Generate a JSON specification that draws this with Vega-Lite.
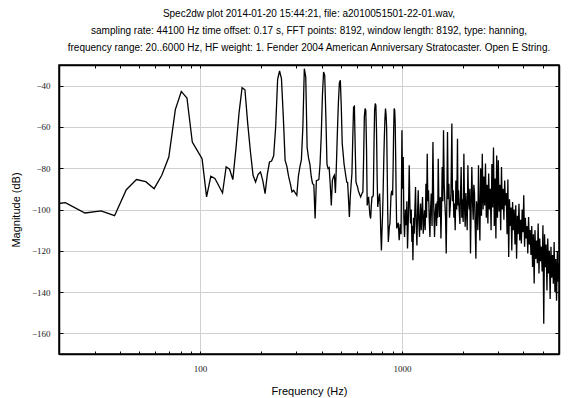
{
  "$schema": "https://vega.github.io/schema/vega-lite/v6.json",
  "width": 500,
  "height": 289,
  "autosize": "none",
  "padding": {"left": 59, "top": 65, "right": 15, "bottom": 44},
  "title": {
    "text": [
      "Spec2dw plot 2014-01-20 15:44:21, file: a2010051501-22-01.wav,",
      "sampling rate: 44100 Hz time offset: 0.17 s, FFT points: 8192, window length: 8192, type: hanning,",
      "frequency range: 20..6000 Hz, HF weight: 1. Fender 2004 American Anniversary Stratocaster. Open E String."
    ],
    "font": "Liberation Sans",
    "fontSize": 10,
    "fontWeight": "normal",
    "lineHeight": 17,
    "offset": 12,
    "anchor": "middle",
    "color": "#000"
  },
  "config": {
    "view": {"stroke": "#000", "strokeWidth": 1.5},
    "axis": {
      "domainColor": "#000",
      "domainWidth": 1.5,
      "tickColor": "#000",
      "labelFont": "Liberation Serif",
      "labelFontSize": 9,
      "labelColor": "#222",
      "titleFont": "Liberation Sans",
      "titleFontSize": 11,
      "titleFontWeight": "normal",
      "titleColor": "#000",
      "gridColor": "#d0d0d0",
      "gridWidth": 1
    }
  },
  "data": {
    "values": [
      {"f": 16.2, "db": -98.2},
      {"f": 21.5, "db": -96.7},
      {"f": 26.9, "db": -101.7},
      {"f": 32.3, "db": -100.7},
      {"f": 37.7, "db": -103},
      {"f": 43.1, "db": -90.4},
      {"f": 48.4, "db": -85.5},
      {"f": 53.8, "db": -86.5},
      {"f": 59.2, "db": -89.9},
      {"f": 64.6, "db": -83.4},
      {"f": 70.0, "db": -74.6},
      {"f": 75.4, "db": -51.6},
      {"f": 80.7, "db": -42.8},
      {"f": 86.1, "db": -46},
      {"f": 91.5, "db": -67.3},
      {"f": 96.9, "db": -71.5},
      {"f": 102.3, "db": -75.4},
      {"f": 107.7, "db": -93.9},
      {"f": 113.0, "db": -83.9},
      {"f": 118.4, "db": -85},
      {"f": 123.8, "db": -88.5},
      {"f": 129.2, "db": -92},
      {"f": 134.6, "db": -79.4},
      {"f": 140.0, "db": -80.5},
      {"f": 145.3, "db": -85.5},
      {"f": 150.7, "db": -70},
      {"f": 156.1, "db": -52.8},
      {"f": 161.5, "db": -41},
      {"f": 166.8, "db": -42},
      {"f": 172.2, "db": -58.4},
      {"f": 177.6, "db": -72},
      {"f": 183.0, "db": -83.4},
      {"f": 188.4, "db": -86.7},
      {"f": 193.8, "db": -83},
      {"f": 199.2, "db": -81.8},
      {"f": 204.5, "db": -86},
      {"f": 209.9, "db": -92.3},
      {"f": 215.3, "db": -83},
      {"f": 220.7, "db": -77},
      {"f": 226.1, "db": -76.5},
      {"f": 231.5, "db": -74},
      {"f": 236.8, "db": -60},
      {"f": 242.2, "db": -37},
      {"f": 247.6, "db": -32.9},
      {"f": 253.0, "db": -36.6},
      {"f": 258.4, "db": -55},
      {"f": 263.8, "db": -76.2},
      {"f": 269.1, "db": -79.1},
      {"f": 274.5, "db": -84},
      {"f": 279.9, "db": -87.5},
      {"f": 285.3, "db": -91.5},
      {"f": 290.7, "db": -90.7},
      {"f": 296.1, "db": -92},
      {"f": 301.4, "db": -93.1},
      {"f": 306.8, "db": -84},
      {"f": 312.2, "db": -79.4},
      {"f": 317.6, "db": -76},
      {"f": 323.0, "db": -60},
      {"f": 328.4, "db": -31.8},
      {"f": 333.8, "db": -35.8},
      {"f": 339.1, "db": -70},
      {"f": 344.5, "db": -75},
      {"f": 349.9, "db": -78},
      {"f": 355.3, "db": -84},
      {"f": 360.7, "db": -87.5},
      {"f": 366.1, "db": -88},
      {"f": 371.4, "db": -104.4},
      {"f": 376.8, "db": -86},
      {"f": 382.2, "db": -85.8},
      {"f": 387.6, "db": -85.5},
      {"f": 393.0, "db": -78},
      {"f": 398.4, "db": -64},
      {"f": 403.7, "db": -45},
      {"f": 409.1, "db": -33.4},
      {"f": 414.5, "db": -35},
      {"f": 419.9, "db": -55},
      {"f": 425.3, "db": -78},
      {"f": 430.6, "db": -80.2},
      {"f": 436.0, "db": -79.7},
      {"f": 441.4, "db": -88},
      {"f": 446.8, "db": -98},
      {"f": 452.2, "db": -86},
      {"f": 457.6, "db": -84.3},
      {"f": 462.9, "db": -83.4},
      {"f": 468.3, "db": -92},
      {"f": 473.7, "db": -78},
      {"f": 479.1, "db": -62},
      {"f": 484.5, "db": -48},
      {"f": 489.9, "db": -38.7},
      {"f": 495.3, "db": -37.4},
      {"f": 500.6, "db": -50},
      {"f": 506.0, "db": -68},
      {"f": 511.4, "db": -72.9},
      {"f": 516.8, "db": -78},
      {"f": 522.2, "db": -81},
      {"f": 527.6, "db": -84},
      {"f": 532.9, "db": -86.7},
      {"f": 538.3, "db": -87},
      {"f": 543.7, "db": -95},
      {"f": 549.1, "db": -103.6},
      {"f": 554.5, "db": -94.2},
      {"f": 559.9, "db": -88},
      {"f": 565.3, "db": -82.6},
      {"f": 570.6, "db": -66},
      {"f": 576.0, "db": -50.4},
      {"f": 581.4, "db": -50},
      {"f": 586.8, "db": -70},
      {"f": 592.2, "db": -86.7},
      {"f": 597.6, "db": -88},
      {"f": 603.0, "db": -89.1},
      {"f": 608.3, "db": -91},
      {"f": 613.7, "db": -92},
      {"f": 619.1, "db": -93},
      {"f": 624.5, "db": -93.9},
      {"f": 629.9, "db": -93},
      {"f": 635.3, "db": -92},
      {"f": 640.6, "db": -91.5},
      {"f": 646.0, "db": -75},
      {"f": 651.4, "db": -55},
      {"f": 656.8, "db": -51.1},
      {"f": 662.2, "db": -52},
      {"f": 667.6, "db": -70},
      {"f": 672.9, "db": -98},
      {"f": 678.3, "db": -96},
      {"f": 683.7, "db": -93.9},
      {"f": 689.1, "db": -99},
      {"f": 694.5, "db": -103},
      {"f": 699.9, "db": -104.4},
      {"f": 705.2, "db": -98},
      {"f": 710.6, "db": -93.9},
      {"f": 716.0, "db": -93.9},
      {"f": 721.4, "db": -93},
      {"f": 726.8, "db": -70},
      {"f": 732.2, "db": -52},
      {"f": 737.6, "db": -48.7},
      {"f": 742.9, "db": -49.5},
      {"f": 748.3, "db": -62},
      {"f": 753.7, "db": -85},
      {"f": 759.1, "db": -98.8},
      {"f": 764.5, "db": -96},
      {"f": 769.9, "db": -94},
      {"f": 775.2, "db": -92.3},
      {"f": 780.6, "db": -100},
      {"f": 786.0, "db": -112},
      {"f": 791.4, "db": -119.8},
      {"f": 796.8, "db": -110},
      {"f": 802.2, "db": -102},
      {"f": 807.5, "db": -90},
      {"f": 812.9, "db": -76.2},
      {"f": 818.3, "db": -65},
      {"f": 823.7, "db": -56},
      {"f": 829.1, "db": -51.1},
      {"f": 834.5, "db": -54},
      {"f": 839.8, "db": -60},
      {"f": 845.2, "db": -80},
      {"f": 850.6, "db": -102},
      {"f": 856.0, "db": -115.7},
      {"f": 861.4, "db": -112},
      {"f": 866.8, "db": -108},
      {"f": 872.1, "db": -106.8},
      {"f": 877.5, "db": -100},
      {"f": 882.9, "db": -93},
      {"f": 888.3, "db": -91.5},
      {"f": 893.7, "db": -92},
      {"f": 899.1, "db": -93.1},
      {"f": 904.4, "db": -80},
      {"f": 909.8, "db": -62},
      {"f": 915.2, "db": -51.1},
      {"f": 920.6, "db": -51.9},
      {"f": 926.0, "db": -58},
      {"f": 931.4, "db": -75},
      {"f": 936.7, "db": -95},
      {"f": 942.1, "db": -109.2},
      {"f": 947.5, "db": -108},
      {"f": 952.9, "db": -107},
      {"f": 958.3, "db": -106.8},
      {"f": 963.7, "db": -110},
      {"f": 969.0, "db": -114.9},
      {"f": 980.8, "db": -107},
      {"f": 990, "db": -112},
      {"f": 1000.1, "db": -61.6},
      {"f": 1007, "db": -90},
      {"f": 1014.9, "db": -74.6},
      {"f": 1022, "db": -104},
      {"f": 1030.1, "db": -113.3},
      {"f": 1040, "db": -100},
      {"f": 1050.2, "db": -107.6},
      {"f": 1058, "db": -96},
      {"f": 1065.9, "db": -118.9},
      {"f": 1076, "db": -104},
      {"f": 1086.7, "db": -78.6},
      {"f": 1095, "db": -98},
      {"f": 1102.9, "db": -106.8},
      {"f": 1112, "db": -100},
      {"f": 1120.7, "db": -115.7},
      {"f": 1127, "db": -108},
      {"f": 1133.5, "db": -124.6},
      {"f": 1142, "db": -104},
      {"f": 1150.6, "db": -111.7},
      {"f": 1159, "db": -100},
      {"f": 1167.7, "db": -89.1},
      {"f": 1177, "db": -108},
      {"f": 1186.6, "db": -117.4},
      {"f": 1195, "db": -102},
      {"f": 1204.3, "db": -90.7},
      {"f": 1213, "db": -106},
      {"f": 1222.4, "db": -113.3},
      {"f": 1229, "db": -104},
      {"f": 1236.4, "db": -97.1},
      {"f": 1246, "db": -110},
      {"f": 1255.9, "db": -101},
      {"f": 1265, "db": -94},
      {"f": 1275.0, "db": -111.7},
      {"f": 1284, "db": -106},
      {"f": 1294.0, "db": -100.4},
      {"f": 1304, "db": -110},
      {"f": 1314.8, "db": -87.5},
      {"f": 1324, "db": -104},
      {"f": 1334.5, "db": -73},
      {"f": 1344, "db": -96},
      {"f": 1354.5, "db": -90.7},
      {"f": 1365, "db": -104},
      {"f": 1376.3, "db": -113.3},
      {"f": 1386, "db": -100},
      {"f": 1396.9, "db": -92.3},
      {"f": 1410, "db": -108},
      {"f": 1424.3, "db": -67.3},
      {"f": 1437, "db": -98},
      {"f": 1450.5, "db": -113.3},
      {"f": 1462, "db": -102},
      {"f": 1473.9, "db": -97.1},
      {"f": 1485, "db": -108},
      {"f": 1495.9, "db": -96},
      {"f": 1504, "db": -104},
      {"f": 1513.1, "db": -75.4},
      {"f": 1524, "db": -96},
      {"f": 1535.7, "db": -103.6},
      {"f": 1548, "db": -94},
      {"f": 1560.4, "db": -114.1},
      {"f": 1571, "db": -100},
      {"f": 1583.1, "db": -79.4},
      {"f": 1595, "db": -96},
      {"f": 1606.9, "db": -61.6},
      {"f": 1620, "db": -88},
      {"f": 1632.7, "db": -97.1},
      {"f": 1645, "db": -104},
      {"f": 1657.2, "db": -121.3},
      {"f": 1669, "db": -96},
      {"f": 1681.9, "db": -62.5},
      {"f": 1695, "db": -95},
      {"f": 1709.0, "db": -87.5},
      {"f": 1721, "db": -104},
      {"f": 1734.5, "db": -98.8},
      {"f": 1750, "db": -92},
      {"f": 1767.5, "db": -58.4},
      {"f": 1781, "db": -96},
      {"f": 1794.7, "db": -90.7},
      {"f": 1808, "db": -104},
      {"f": 1821.5, "db": -97.1},
      {"f": 1836, "db": -110},
      {"f": 1850.8, "db": -85.9},
      {"f": 1868, "db": -100},
      {"f": 1884.9, "db": -65.7},
      {"f": 1895, "db": -98},
      {"f": 1906.5, "db": -90.7},
      {"f": 1921, "db": -100},
      {"f": 1937.2, "db": -107},
      {"f": 1951, "db": -92},
      {"f": 1965.6, "db": -79.4},
      {"f": 1980, "db": -104},
      {"f": 1995.3, "db": -95},
      {"f": 2011, "db": -106},
      {"f": 2027.4, "db": -73},
      {"f": 2042, "db": -98},
      {"f": 2057.7, "db": -108.4},
      {"f": 2073, "db": -92},
      {"f": 2088.5, "db": -100},
      {"f": 2105, "db": -110},
      {"f": 2122.1, "db": -78.6},
      {"f": 2138, "db": -96},
      {"f": 2153.9, "db": -100},
      {"f": 2170, "db": -90},
      {"f": 2186.1, "db": -121.3},
      {"f": 2203, "db": -98},
      {"f": 2219.8, "db": -79.4},
      {"f": 2237, "db": -96},
      {"f": 2254.5, "db": -105},
      {"f": 2271, "db": -88},
      {"f": 2288.2, "db": -92},
      {"f": 2306, "db": -108},
      {"f": 2325.0, "db": -123.8},
      {"f": 2342, "db": -96},
      {"f": 2359.7, "db": -100},
      {"f": 2377, "db": -110},
      {"f": 2395.0, "db": -78.6},
      {"f": 2414, "db": -100},
      {"f": 2433.6, "db": -115},
      {"f": 2456, "db": -80},
      {"f": 2478, "db": -103},
      {"f": 2501, "db": -73},
      {"f": 2524, "db": -100},
      {"f": 2547, "db": -84},
      {"f": 2570, "db": -98},
      {"f": 2594, "db": -77.7},
      {"f": 2618, "db": -104},
      {"f": 2642, "db": -88},
      {"f": 2666, "db": -106.8},
      {"f": 2690, "db": -82.6},
      {"f": 2715, "db": -100},
      {"f": 2740, "db": -90},
      {"f": 2765, "db": -110},
      {"f": 2790, "db": -78},
      {"f": 2816, "db": -99},
      {"f": 2842, "db": -70},
      {"f": 2868, "db": -108},
      {"f": 2894, "db": -85},
      {"f": 2921, "db": -114},
      {"f": 2947, "db": -73.8},
      {"f": 2974, "db": -104},
      {"f": 3002, "db": -76.2},
      {"f": 3029, "db": -101},
      {"f": 3057, "db": -88},
      {"f": 3085, "db": -110},
      {"f": 3113, "db": -79.4},
      {"f": 3142, "db": -100},
      {"f": 3171, "db": -90},
      {"f": 3200, "db": -105},
      {"f": 3229, "db": -86},
      {"f": 3259, "db": -98},
      {"f": 3288, "db": -92},
      {"f": 3318, "db": -112},
      {"f": 3349, "db": -85.5},
      {"f": 3380, "db": -123},
      {"f": 3411, "db": -95},
      {"f": 3442, "db": -108},
      {"f": 3473, "db": -99},
      {"f": 3501, "db": -119.8},
      {"f": 3533, "db": -96.4},
      {"f": 3565, "db": -110},
      {"f": 3598, "db": -100},
      {"f": 3631, "db": -117},
      {"f": 3664, "db": -98},
      {"f": 3698, "db": -123.8},
      {"f": 3732, "db": -103},
      {"f": 3766, "db": -112},
      {"f": 3801, "db": -97.2},
      {"f": 3835, "db": -115},
      {"f": 3870, "db": -105},
      {"f": 3906, "db": -116.5},
      {"f": 3942, "db": -100},
      {"f": 3978, "db": -111},
      {"f": 4014, "db": -93.1},
      {"f": 4051, "db": -118},
      {"f": 4088, "db": -104},
      {"f": 4126, "db": -114},
      {"f": 4163, "db": -108},
      {"f": 4202, "db": -121.3},
      {"f": 4240, "db": -103.6},
      {"f": 4279, "db": -117},
      {"f": 4318, "db": -110},
      {"f": 4358, "db": -122},
      {"f": 4397, "db": -108},
      {"f": 4438, "db": -127.8},
      {"f": 4479, "db": -112},
      {"f": 4520, "db": -135.9},
      {"f": 4561, "db": -110},
      {"f": 4603, "db": -124},
      {"f": 4645, "db": -115},
      {"f": 4687, "db": -126},
      {"f": 4730, "db": -106.8},
      {"f": 4774, "db": -131},
      {"f": 4817, "db": -114},
      {"f": 4862, "db": -125},
      {"f": 4906, "db": -118},
      {"f": 4951, "db": -130},
      {"f": 4996, "db": -107.6},
      {"f": 5042, "db": -155.3},
      {"f": 5088, "db": -112},
      {"f": 5135, "db": -128},
      {"f": 5182, "db": -117},
      {"f": 5230, "db": -139.2},
      {"f": 5277, "db": -114.1},
      {"f": 5326, "db": -131},
      {"f": 5375, "db": -120},
      {"f": 5424, "db": -143.4},
      {"f": 5474, "db": -118},
      {"f": 5524, "db": -133},
      {"f": 5574, "db": -122},
      {"f": 5625, "db": -136},
      {"f": 5677, "db": -115.7},
      {"f": 5729, "db": -140},
      {"f": 5781, "db": -124},
      {"f": 5834, "db": -144.2},
      {"f": 5888, "db": -120.6},
      {"f": 5942, "db": -135},
      {"f": 5996, "db": -126}
    ]
  },
  "layer": [
    {
      "mark": {"type": "line", "color": "#000", "strokeWidth": 1.3, "clip": true},
      "encoding": {
        "x": {
          "field": "f",
          "type": "quantitative",
          "scale": {"type": "log", "domain": [20, 6000], "nice": false},
          "axis": {
            "orient": "bottom",
            "title": "Frequency (Hz)",
            "values": [20, 30, 40, 50, 60, 70, 80, 90, 100, 200, 300, 400, 500, 600, 700, 800, 900, 1000, 2000, 3000, 4000, 5000],
            "labelExpr": "datum.value == 100 || datum.value == 1000 ? format(datum.value, 'd') : ''",
            "grid": true,
            "gridOpacity": {"condition": {"test": "datum.value == 100 || datum.value == 1000", "value": 1}, "value": 0},
            "tickSize": -3,
            "labelPadding": 13,
            "labelFlush": false,
            "labelOverlap": false,
            "titlePadding": 12
          }
        },
        "y": {
          "field": "db",
          "type": "quantitative",
          "scale": {"domain": [-170, -30], "nice": false, "zero": false},
          "axis": {
            "orient": "left",
            "title": "Magnitude (dB)",
            "values": [-160, -140, -120, -100, -80, -60, -40],
            "grid": true,
            "tickSize": -4,
            "labelPadding": 13,
            "titlePadding": 10
          }
        }
      }
    },
    {
      "mark": {"type": "line", "strokeOpacity": 0, "clip": true},
      "encoding": {
        "x": {
          "field": "f",
          "type": "quantitative",
          "axis": {
            "orient": "top",
            "title": null,
            "labels": false,
            "grid": false,
            "values": [20, 30, 40, 50, 60, 70, 80, 90, 100, 200, 300, 400, 500, 600, 700, 800, 900, 1000, 2000, 3000, 4000, 5000],
            "tickSize": -3
          }
        },
        "y": {
          "field": "db",
          "type": "quantitative",
          "axis": {
            "orient": "right",
            "title": null,
            "labels": false,
            "grid": false,
            "values": [-160, -140, -120, -100, -80, -60, -40],
            "tickSize": -4
          }
        }
      }
    }
  ],
  "resolve": {"axis": {"x": "independent", "y": "independent"}}
}
